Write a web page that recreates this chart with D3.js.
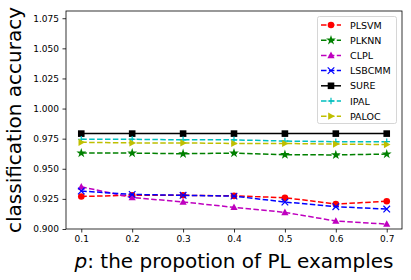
<!DOCTYPE html>
<html>
<head>
<meta charset="utf-8">
<script src="https://cdn.jsdelivr.net/npm/d3@7"></script>
<style>
  body { margin: 0; background: #fff; }
  text { font-family: "DejaVu Sans", sans-serif; }
</style>
</head>
<body>
<div id="chart"></div>
<script>
// x values: proportion of PL examples
const props = [0.1, 0.2, 0.3, 0.4, 0.5, 0.6, 0.7];
const yTicks = [0.900, 0.925, 0.950, 0.975, 1.000, 1.025, 1.050, 1.075];

const plsvm  = [0.927, 0.928, 0.928, 0.9275, 0.926, 0.9207, 0.923];
const plknn  = [0.963, 0.963, 0.9625, 0.963, 0.9617, 0.9615, 0.9622];
const clpl   = [0.935, 0.9262, 0.9224, 0.918, 0.9138, 0.9066, 0.9041];
const lsbcmm = [0.9315, 0.9287, 0.928, 0.9273, 0.9224, 0.9185, 0.9166];
const sure   = [0.9792, 0.9792, 0.9792, 0.9792, 0.9792, 0.9792, 0.9792];
const ipal   = [0.9745, 0.9745, 0.974, 0.974, 0.973, 0.9725, 0.9725];
const paloc  = [0.972, 0.9715, 0.9715, 0.971, 0.971, 0.9705, 0.9701];

const seriesNames = ["PLSVM", "PLKNN", "CLPL", "LSBCMM", "SURE", "IPAL", "PALOC"];
const seriesValues = [plsvm, plknn, clpl, lsbcmm, sure, ipal, paloc];

// style per series
const styles = [
  {color: "#ff0000", dash: true,  marker: "circle"},
  {color: "#008000", dash: true,  marker: "star"},
  {color: "#bf00bf", dash: true,  marker: "triangle"},
  {color: "#0000ff", dash: true,  marker: "x"},
  {color: "#000000", dash: false, marker: "square"},
  {color: "#00bfbf", dash: true,  marker: "plus"},
  {color: "#bfbf00", dash: true,  marker: "right"}
];

const W = 411, H = 280;
const pLeft = 66, pRight = 402, pTop = 11, pBottom = 229;

const svg = d3.select("#chart").append("svg")
  .attr("width", W).attr("height", H);

const x = d3.scaleLinear().domain([0.07, 0.73]).range([pLeft, pRight]);
const y = d3.scaleLinear().domain([0.9, 1.081]).range([pBottom, pTop]);

// draw a marker shape at (cx, cy)
function drawMarker(g, kind, cx, cy, color) {
  const s = 3.3;
  if (kind === "circle") {
    g.append("circle").attr("cx", cx).attr("cy", cy).attr("r", s).attr("fill", color);
  } else if (kind === "square") {
    g.append("rect").attr("x", cx - s).attr("y", cy - s).attr("width", 2 * s).attr("height", 2 * s).attr("fill", color);
  } else if (kind === "triangle") {
    g.append("path").attr("d", `M${cx},${cy - s - 0.5}L${cx + s + 0.3},${cy + s - 0.5}L${cx - s - 0.3},${cy + s - 0.5}Z`).attr("fill", color);
  } else if (kind === "right") {
    g.append("path").attr("d", `M${cx + s + 0.5},${cy}L${cx - s + 0.5},${cy - s - 0.3}L${cx - s + 0.5},${cy + s + 0.3}Z`).attr("fill", color);
  } else if (kind === "star") {
    const star = d3.symbol().type(d3.symbolStar).size(30);
    g.append("path").attr("d", star()).attr("transform", `translate(${cx},${cy})`).attr("fill", color);
  } else if (kind === "x") {
    g.append("path").attr("d", `M${cx - s},${cy - s}L${cx + s},${cy + s}M${cx - s},${cy + s}L${cx + s},${cy - s}`)
      .attr("stroke", color).attr("stroke-width", 1.2);
  } else if (kind === "plus") {
    g.append("path").attr("d", `M${cx - s},${cy}L${cx + s},${cy}M${cx},${cy - s}L${cx},${cy + s}`)
      .attr("stroke", color).attr("stroke-width", 1.2);
  }
}

// lines + markers
const line = d3.line().x((d, i) => x(props[i])).y(d => y(d));
seriesValues.forEach((vals, k) => {
  const st = styles[k];
  svg.append("path")
    .attr("d", line(vals))
    .attr("fill", "none")
    .attr("stroke", st.color)
    .attr("stroke-width", 1.5)
    .attr("stroke-dasharray", st.dash ? "5.5,2.4" : null);
  const g = svg.append("g");
  vals.forEach((v, i) => drawMarker(g, st.marker, x(props[i]), y(v), st.color));
});

// axes
const xAxis = d3.axisBottom(x).tickValues(props).tickSize(3.5).tickPadding(3.5).tickFormat(d3.format(".1f"));
const gx = svg.append("g").attr("transform", `translate(0,${pBottom})`).call(xAxis);
const yAxis = d3.axisLeft(y).tickValues(yTicks).tickSize(3.5).tickPadding(3.5).tickFormat(d3.format(".3f"));
const gy = svg.append("g").attr("transform", `translate(${pLeft},0)`).call(yAxis);
[gx, gy].forEach(g => {
  g.select(".domain").remove();
  g.selectAll("text").style("font-family", "DejaVu Sans").style("font-size", "9px").attr("fill", "#000");
  g.selectAll("line").attr("stroke", "#000").attr("stroke-width", 0.8);
});

// frame
svg.append("rect").attr("x", pLeft).attr("y", pTop).attr("width", pRight - pLeft).attr("height", pBottom - pTop)
  .attr("fill", "none").attr("stroke", "#000").attr("stroke-width", 0.8);

// axis labels
svg.append("text")
  .attr("transform", `translate(21,${(pTop + pBottom) / 2}) rotate(-90)`)
  .attr("text-anchor", "middle")
  .style("font-size", "20px")
  .text("classification accuracy");

const xl = svg.append("text")
  .attr("x", (pLeft + pRight) / 2).attr("y", 268)
  .attr("text-anchor", "middle")
  .style("font-size", "20px");
xl.append("tspan").style("font-style", "italic").text("p");
xl.append("tspan").text(": the propotion of PL examples");

// legend
const lg = svg.append("g");
lg.append("rect").attr("x", 317.5).attr("y", 16.5).attr("width", 79).attr("height", 107).attr("rx", 2)
  .attr("fill", "#fff").attr("fill-opacity", 0.8).attr("stroke", "#ccc").attr("stroke-width", 0.8);
seriesNames.forEach((name, k) => {
  const st = styles[k];
  const ly = 25 + k * 15.2;
  lg.append("line").attr("x1", 321).attr("x2", 341).attr("y1", ly).attr("y2", ly)
    .attr("stroke", st.color).attr("stroke-width", 1.5)
    .attr("stroke-dasharray", st.dash ? "5.5,2.4" : null);
  drawMarker(lg, st.marker, 331, ly, st.color);
  lg.append("text").attr("x", 350).attr("y", ly + 3.5)
    .style("font-size", "9.5px").text(name);
});
</script>
</body>
</html>
